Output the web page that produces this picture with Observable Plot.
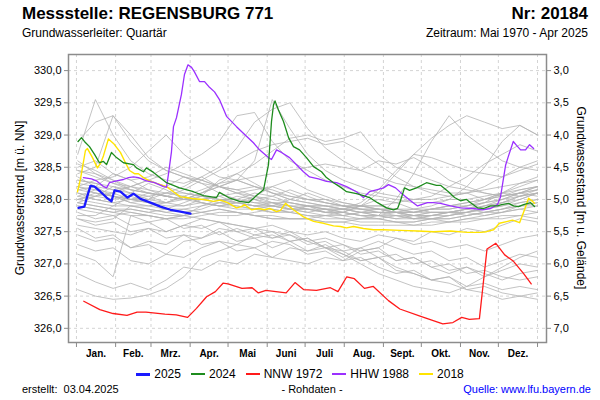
<!DOCTYPE html>
<html>
<head>
<meta charset="utf-8">
<script src="https://cdn.jsdelivr.net/npm/d3@7"></script>
<script src="https://cdn.jsdelivr.net/npm/@observablehq/plot@0.6"></script>
<style>
  html, body { margin: 0; padding: 0; background: #fff; }
  #wrap { position: relative; width: 600px; height: 400px; overflow: hidden; font-family: "Liberation Sans", Arial, sans-serif; color: #000; }
  .abs { position: absolute; white-space: nowrap; }
  #title { left: 22px; top: 4px; font-size: 17px; font-weight: bold; }
  #nr { right: 12px; top: 4px; font-size: 17px; font-weight: bold; }
  #sub { left: 22px; top: 26px; font-size: 12px; }
  #zeit { right: 12px; top: 26px; font-size: 12px; }
  .ylab { font-size: 12px; }
  #legend { left: 0; width: 600px; top: 367px; display: flex; justify-content: center; align-items: center; font-size: 12px; }
  #legend .item { display: flex; align-items: center; margin: 0 5px; }
  #legend .sw { display: inline-block; width: 14px; margin-right: 4px; }
  #footer1 { left: 22px; top: 383px; font-size: 11px; }
  #footer2 { left: 312px; top: 383px; font-size: 11px; transform: translateX(-50%); }
  #footer3 { right: 9px; top: 383px; font-size: 11px; color: #0000ff; }
</style>
</head>
<body>
<div id="wrap">
  <div id="chart" class="abs" style="left:0;top:0;"></div>
  <div id="title" class="abs">Messstelle: REGENSBURG 771</div>
  <div id="nr" class="abs">Nr: 20184</div>
  <div id="sub" class="abs">Grundwasserleiter: Quartär</div>
  <div id="zeit" class="abs">Zeitraum: Mai 1970 - Apr 2025</div>
  <div class="abs ylab" style="left:20px;top:198px;transform:translate(-50%,-50%) rotate(-90deg);">Grundwasserstand [m ü. NN]</div>
  <div class="abs ylab" style="left:581px;top:198px;transform:translate(-50%,-50%) rotate(90deg);">Grundwasserstand [m u. Gelände]</div>
  <div id="legend" class="abs"></div>
  <div id="footer1" class="abs">erstellt:&nbsp; 03.04.2025</div>
  <div id="footer2" class="abs">- Rohdaten -</div>
  <div id="footer3" class="abs">Quelle: www.lfu.bayern.de</div>
</div>
<script>
// ---------- axis / category data ----------
const monthStarts = [0, 31, 59, 90, 120, 151, 181, 212, 243, 273, 304, 334, 365];
const monthNames = ["Jan.", "Feb.", "Mrz.", "Apr.", "Mai", "Juni", "Juli", "Aug.", "Sept.", "Okt.", "Nov.", "Dez."];
const levelTicks = [326, 326.5, 327, 327.5, 328, 328.5, 329, 329.5, 330];
const groundLevel = 333.0;

// ---------- highlighted series (day of year, level m ü. NN) ----------
const days2025 = [1.6, 6.3, 8.7, 11.1, 14.3, 19, 23.8, 27.7, 30.1, 34.8, 40.4, 45.1, 50.7, 58.6, 66.5, 74.4, 82.3, 90.3];
const level2025 = [327.87, 327.89, 328.06, 328.21, 328.20, 328.12, 328.03, 327.97, 328.14, 328.12, 328.03, 328.09, 328.01, 327.95, 327.89, 327.84, 327.81, 327.78];

const days2024 = [1.3, 4.0, 6.3, 10.3, 14.3, 18.2, 21.4, 23.8, 27.7, 31.7, 37.2, 45.1, 47.5, 53.1, 55.4, 61.0, 71.3, 81.6, 92.6, 100.6, 110.9, 113.2, 120.4, 129.1, 136.2, 142.5, 148.1, 152.0, 154.4, 156.0, 157.2, 159.9, 163.9, 167.9, 171.8, 176.6, 182.1, 187.7, 194.0, 197.9, 203.5, 209.8, 213.8, 221.7, 227.2, 232.0, 238.3, 245.5, 251.0, 254.2, 256.5, 259.7, 263.7, 269.2, 277.1, 285.0, 288.2, 294.5, 299.3, 304.0, 308.8, 312.0, 317.5, 322.3, 327.8, 333.3, 336.5, 342.1, 346.0, 350.0, 353.9, 359.5, 362.6];
const level2024 = [328.90, 328.96, 328.90, 328.82, 328.70, 328.57, 328.59, 328.54, 328.73, 328.65, 328.57, 328.54, 328.49, 328.43, 328.49, 328.42, 328.26, 328.18, 328.12, 328.06, 328.03, 328.11, 328.03, 327.97, 327.95, 328.06, 328.15, 328.54, 329.21, 329.47, 329.53, 329.39, 329.21, 328.96, 328.82, 328.77, 328.65, 328.51, 328.43, 328.34, 328.26, 328.18, 328.12, 328.09, 328.06, 328.03, 327.95, 327.87, 327.84, 327.86, 327.98, 328.18, 328.14, 328.18, 328.26, 328.22, 328.22, 328.12, 328.03, 327.98, 328.00, 327.95, 327.87, 327.86, 327.90, 327.90, 327.92, 327.94, 327.90, 327.89, 327.92, 327.95, 327.89];

const daysNNW1972 = [5.8, 18.5, 29, 40, 48, 55, 70, 79, 88, 95, 103, 110, 116, 120, 131, 139, 144, 150, 166, 173, 180, 190, 201, 207, 214, 220, 228, 235, 247, 256, 272, 290, 298, 305, 311, 319, 325, 332, 339, 346, 354, 360];
const levelNNW1972 = [326.42, 326.29, 326.23, 326.20, 326.25, 326.25, 326.22, 326.21, 326.17, 326.31, 326.49, 326.57, 326.70, 326.69, 326.62, 326.63, 326.55, 326.59, 326.55, 326.71, 326.60, 326.59, 326.63, 326.57, 326.80, 326.77, 326.62, 326.65, 326.43, 326.30, 326.19, 326.07, 326.09, 326.17, 326.14, 326.15, 327.23, 327.32, 327.14, 327.04, 326.85, 326.69];

const daysHHW1988 = [5.5, 11.9, 15.8, 21.4, 23.8, 26.1, 31.7, 37.2, 41.2, 45.1, 49.1, 55.4, 61.8, 68.9, 71.3, 72.8, 75.2, 76.8, 79.2, 83.1, 85.5, 88.3, 91.1, 93.4, 97.4, 101.4, 105.3, 109.3, 113.2, 118.8, 126.7, 134.6, 140.1, 144.9, 152.0, 154.4, 158.4, 162.3, 168.7, 174.2, 179.7, 184.5, 191.6, 197.9, 205.9, 213.8, 221.7, 227.2, 232.0, 237.5, 243.1, 247.0, 252.6, 256.5, 264.5, 270.0, 277.9, 282.7, 288.2, 296.1, 304.0, 314.3, 321.5, 327.8, 333.3, 335.7, 339.7, 342.1, 345.8, 348.4, 351.6, 355.5, 358.7, 361.9];
const levelHHW1988 = [328.34, 328.32, 328.29, 328.20, 328.18, 328.26, 328.29, 328.31, 328.34, 328.35, 328.34, 328.29, 328.26, 328.20, 328.19, 328.39, 328.74, 329.13, 329.27, 329.63, 329.94, 330.09, 330.05, 329.98, 329.83, 329.83, 329.74, 329.67, 329.55, 329.29, 329.13, 328.98, 328.88, 328.77, 328.65, 328.62, 328.77, 328.73, 328.65, 328.54, 328.43, 328.35, 328.32, 328.28, 328.26, 328.20, 328.12, 328.03, 328.12, 328.15, 328.18, 328.23, 328.18, 328.11, 327.98, 327.90, 327.95, 327.95, 327.94, 327.90, 327.87, 327.86, 327.84, 327.86, 327.92, 328.04, 328.53, 328.68, 328.90, 328.84, 328.77, 328.77, 328.85, 328.79];

const days2018 = [0.8, 3.2, 7.1, 8.7, 12.7, 16.6, 19.0, 21.4, 25.3, 29.3, 34.8, 38.8, 42.0, 45.9, 49.1, 53.0, 57.8, 63.3, 71.3, 76.8, 82.3, 87.1, 92.6, 100.6, 108.5, 114.0, 119.6, 126.7, 130.6, 133.0, 138.6, 144.1, 148.9, 152.8, 158.4, 161.5, 165.5, 171.8, 179.7, 187.7, 195.6, 203.5, 209.0, 213.8, 219.3, 227.2, 235.2, 243.1, 256.5, 270.0, 282.7, 296.1, 309.6, 319.9, 324.6, 330.2, 334.9, 341.3, 345.2, 350.8, 354.7, 357.9, 361.1, 362.6];
const level2018 = [328.12, 328.32, 328.76, 328.79, 328.65, 328.49, 328.56, 328.68, 328.94, 328.87, 328.73, 328.57, 328.45, 328.40, 328.40, 328.34, 328.29, 328.25, 328.20, 328.12, 328.04, 328.03, 328.01, 328.00, 327.97, 327.99, 327.95, 327.87, 327.89, 327.92, 327.84, 327.86, 327.84, 327.86, 327.81, 327.83, 327.94, 327.84, 327.73, 327.66, 327.63, 327.59, 327.58, 327.56, 327.58, 327.55, 327.53, 327.53, 327.52, 327.51, 327.50, 327.51, 327.49, 327.49, 327.50, 327.53, 327.63, 327.66, 327.68, 327.64, 327.84, 328.02, 327.97, 327.94];

// ---------- other years of record (grey), read every 14 days ----------
const grayDays = [1, 15, 29, 43, 57, 71, 85, 99, 113, 127, 141, 155, 169, 183, 197, 211, 225, 239, 253, 267, 281, 295, 309, 323, 337, 351, 365];
const grayLevels = [
  [328.30,328.25,328.15,328.20,328.10,328.05,328.00,328.10,328.20,328.15,328.05,327.95,327.95,327.90,327.85,327.85,327.80,327.75,327.75,327.70,327.70,327.70,327.75,327.80,327.85,327.90,327.95],
  [328.05,328.00,327.95,327.90,327.90,327.95,328.05,327.95,327.90,327.85,327.85,327.80,327.85,327.80,327.75,327.75,327.70,327.70,327.65,327.65,327.70,327.65,327.70,327.75,327.80,327.85,327.80],
  [327.85,327.80,327.75,327.80,327.75,327.70,327.70,327.75,327.80,327.80,327.75,327.75,327.70,327.70,327.75,327.70,327.65,327.65,327.65,327.60,327.60,327.65,327.70,327.70,327.75,327.75,327.80],
  [328.45,328.40,328.30,328.20,328.30,328.20,328.10,328.05,328.00,328.00,328.10,328.05,327.95,327.90,327.90,327.85,327.80,327.80,327.75,327.75,327.75,327.80,327.85,327.80,327.85,327.95,328.00],
  [328.15,328.20,328.40,328.30,328.15,328.05,328.15,328.30,328.20,328.10,328.00,328.05,328.15,328.05,327.95,327.90,327.85,327.80,327.80,327.75,327.80,327.80,327.75,327.80,327.85,327.90,327.90],
  [327.70,327.65,327.70,327.90,327.85,327.80,327.75,327.90,328.00,327.95,327.90,327.85,327.80,327.90,327.85,327.80,327.75,327.70,327.75,327.70,327.70,327.75,327.80,327.75,327.80,327.85,327.90],
  [328.00,328.10,328.05,327.95,328.00,328.20,328.35,328.25,328.10,328.00,327.95,327.90,327.90,327.85,327.80,327.80,327.75,327.75,327.70,327.70,327.75,327.80,327.80,327.90,328.00,328.10,328.05],
  [327.95,327.90,327.85,327.85,327.80,327.85,327.95,328.05,328.30,328.40,328.25,328.10,328.00,327.95,327.90,327.85,327.80,327.80,327.80,327.75,327.75,327.75,327.80,327.85,327.90,328.00,328.10],
  [328.20,328.15,328.05,328.00,327.95,327.90,327.90,327.95,327.90,327.95,328.05,328.20,328.30,328.15,328.05,327.95,327.90,327.85,327.85,327.80,327.80,327.80,327.85,327.90,327.95,328.05,328.15],
  [327.90,327.85,327.80,327.75,327.75,327.70,327.75,327.80,327.85,327.80,327.75,327.70,327.70,327.70,327.65,327.65,327.60,327.60,327.60,327.60,327.65,327.65,327.65,327.70,327.70,327.75,327.70],
  [328.10,328.05,328.00,328.10,328.25,328.15,328.00,327.95,327.90,327.90,327.85,327.90,328.00,328.10,328.00,327.90,327.90,327.85,327.80,327.80,327.85,327.85,327.90,327.95,328.00,328.10,328.20],
  [328.35,328.20,328.05,327.95,327.90,327.85,327.80,327.85,327.95,328.05,328.00,327.95,327.90,327.85,327.85,327.80,327.90,328.00,327.95,327.85,327.80,327.80,327.80,327.85,327.90,327.95,328.00],
  [327.75,327.75,327.90,328.05,327.95,327.85,327.85,327.80,327.75,327.75,327.80,327.85,327.80,327.75,327.70,327.70,327.70,327.70,327.65,327.65,327.70,327.70,327.75,327.80,327.80,327.90,327.95],
  [328.55,328.45,328.30,328.15,328.10,328.05,328.00,328.00,328.05,328.10,328.15,328.20,328.10,328.00,327.95,327.90,327.85,327.85,327.85,327.80,327.85,327.90,327.95,328.00,328.05,328.15,328.20],
  [328.05,328.15,328.10,328.00,328.05,327.95,327.90,328.00,328.05,327.95,327.90,327.95,327.85,327.80,327.85,327.75,327.80,327.75,327.70,327.75,327.70,327.75,327.80,327.85,327.95,328.05,328.10],
  [327.95,328.05,328.20,328.10,328.00,328.10,328.05,327.95,327.90,327.95,328.00,327.90,327.85,327.90,327.80,327.75,327.80,327.85,327.80,327.70,327.75,327.80,327.85,327.95,328.10,328.25,328.35],
  [328.70,329.55,329.00,328.60,328.40,328.30,328.25,328.35,328.20,328.10,328.05,328.00,327.95,327.90,327.90,327.85,327.85,327.80,327.80,327.75,327.80,327.80,327.85,327.90,327.95,328.00,328.10],
  [328.90,329.20,329.30,328.90,328.60,328.45,328.35,328.30,328.20,328.15,328.20,328.10,328.00,327.95,327.90,327.90,327.85,327.85,327.80,327.80,327.85,327.85,327.90,328.00,328.10,328.20,328.30],
  [328.40,328.50,329.30,329.00,328.65,328.45,328.35,328.25,328.20,328.30,328.20,328.10,328.05,328.00,327.95,327.90,327.90,327.85,327.80,327.80,327.85,327.90,327.95,328.00,328.10,328.05,328.10],
  [328.20,328.30,328.35,328.50,328.75,329.00,328.70,328.50,328.35,328.30,328.20,328.15,328.05,328.00,328.00,327.95,327.90,327.90,327.85,327.85,327.85,327.90,327.90,327.95,328.00,328.05,328.10],
  [328.00,328.05,328.10,328.20,328.30,328.40,328.55,328.70,328.90,329.30,329.35,328.90,328.60,328.45,328.30,328.20,328.10,328.05,328.00,327.95,327.95,328.00,328.00,328.05,328.10,328.15,328.20],
  [328.10,328.00,327.95,328.00,328.10,328.05,328.00,328.10,328.20,328.30,328.60,329.55,329.10,328.70,328.45,328.30,328.20,328.10,328.05,328.00,328.00,328.05,328.10,328.00,328.05,328.10,328.15],
  [328.25,328.20,328.15,328.10,328.05,328.10,328.20,328.35,328.50,328.80,329.20,329.40,329.50,329.10,328.80,328.60,328.45,328.35,328.25,328.20,328.15,328.10,328.10,328.15,328.20,328.25,328.30],
  [328.30,328.25,328.20,328.15,328.10,328.05,328.00,328.10,328.25,328.40,328.55,328.75,328.95,329.00,328.90,328.95,329.05,328.70,328.50,328.40,328.30,328.20,328.15,328.10,328.05,328.10,328.20],
  [327.90,327.85,327.80,327.85,327.80,327.75,327.75,327.80,327.85,327.80,327.75,327.70,327.70,327.70,327.65,327.65,327.70,327.75,328.00,328.40,328.90,329.30,329.00,328.80,328.60,328.50,328.45],
  [328.00,327.95,327.90,327.90,327.85,327.80,327.85,327.90,327.95,327.90,327.85,327.80,327.80,327.75,327.75,327.80,327.90,328.10,328.40,328.70,328.95,329.15,329.30,329.20,329.10,329.15,329.00],
  [328.20,328.10,328.05,328.00,328.00,327.95,328.05,328.15,328.25,328.30,328.35,328.40,328.45,328.50,328.55,328.50,328.45,328.60,328.55,328.65,328.50,328.30,328.20,328.10,328.05,328.10,328.15],
  [328.50,328.60,328.40,328.30,328.35,328.50,328.40,328.30,328.45,328.60,328.75,328.85,328.90,328.95,328.85,328.90,328.75,328.55,328.35,328.20,328.10,328.05,328.10,328.20,328.35,328.50,328.60],
  [328.60,328.40,328.25,328.15,328.10,328.05,328.00,328.00,327.95,327.95,327.90,327.90,327.85,327.85,327.80,327.80,327.75,327.75,327.80,327.85,327.90,328.00,328.20,328.50,328.90,329.15,329.00],
  [328.45,328.35,328.25,328.20,328.15,328.10,328.10,328.05,328.00,328.00,327.95,327.95,327.90,327.90,327.85,327.85,327.90,327.90,327.95,328.00,328.05,328.20,328.35,328.55,328.70,328.85,328.75],
  [328.15,328.10,328.05,328.00,327.95,327.95,328.00,328.05,328.00,327.95,327.90,327.90,327.85,327.85,327.80,327.85,327.95,328.15,328.45,328.70,328.65,328.55,328.45,328.40,328.35,328.45,328.55],
  [327.30,327.20,327.25,327.05,327.00,327.15,327.10,327.25,327.35,327.30,327.45,327.40,327.50,327.35,327.40,327.30,327.20,327.25,327.05,327.10,326.95,326.85,326.95,326.80,326.90,327.00,326.95],
  [326.60,326.50,326.45,326.47,326.52,326.62,326.80,327.10,327.20,327.30,327.25,327.35,327.30,327.15,327.20,327.05,327.10,326.95,326.85,326.90,326.75,326.70,326.60,326.65,326.55,326.50,326.55],
  [326.85,326.72,326.62,326.70,326.60,326.75,326.95,326.90,327.05,327.00,327.15,327.10,327.25,327.20,327.30,327.15,327.05,327.10,326.95,326.85,326.75,326.80,326.65,326.70,326.60,326.65,326.60],
  [327.55,327.40,327.45,327.25,327.30,327.15,327.35,327.40,327.50,327.35,327.40,327.25,327.35,327.20,327.25,327.10,327.25,327.35,327.25,327.15,327.20,327.05,327.10,326.95,327.05,327.15,327.10],
  [327.15,327.05,326.80,327.75,327.65,327.70,327.55,327.60,327.45,327.55,327.45,327.50,327.35,327.40,327.25,327.30,327.15,327.20,327.05,327.10,326.95,327.00,326.85,326.90,326.80,326.75,326.80],
  [327.45,327.35,327.40,327.25,327.35,327.30,327.45,327.40,327.55,327.50,327.40,327.45,327.35,327.40,327.25,327.20,327.05,327.10,326.90,326.85,326.75,326.80,326.60,326.55,326.45,326.50,326.45],
  [327.80,327.70,327.75,327.60,327.65,327.50,327.60,327.55,327.65,327.50,327.55,327.40,327.45,327.30,327.35,327.20,327.25,327.10,327.15,327.00,327.05,326.90,326.95,326.85,326.75,326.85,326.90],
  [327.70,327.60,327.65,327.50,327.55,327.40,327.45,327.30,327.35,327.20,327.25,327.10,327.05,327.00,327.10,327.05,327.20,327.25,327.40,327.35,327.50,327.45,327.55,327.50,327.60,327.70,327.65],
  [327.95,327.90,327.85,327.80,327.75,327.70,327.75,327.70,327.65,327.60,327.55,327.50,327.45,327.35,327.25,327.15,327.00,326.85,326.75,326.65,326.60,326.55,326.65,326.80,326.95,327.10,327.20],
  [327.60,327.55,327.50,327.45,327.55,327.50,327.60,327.70,327.65,327.60,327.55,327.60,327.50,327.45,327.50,327.40,327.35,327.45,327.40,327.30,327.35,327.25,327.30,327.20,327.30,327.40,327.45]
];

// ---------- build tables ----------
const zip = (ds, ls) => ds.map((d, i) => ({day: d, level: ls[i]})).filter(r => r.level != null);
const grayRows = grayLevels.flatMap((ls, k) => grayDays.map((d, i) => ({series: k, day: d, level: ls[i]})).filter(r => r.level != null));
const series = [
  {name: "2018", rows: zip(days2018, level2018), color: "#ffe400", width: 1.4},
  {name: "HHW 1988", rows: zip(daysHHW1988, levelHHW1988), color: "#9b30ff", width: 1.3},
  {name: "NNW 1972", rows: zip(daysNNW1972, levelNNW1972), color: "#ff1a1a", width: 1.3},
  {name: "2024", rows: zip(days2024, level2024), color: "#1e8c1e", width: 1.3},
  {name: "2025", rows: zip(days2025, level2025), color: "#1a1aff", width: 2.3}
];
const legendOrder = ["2025", "2024", "NNW 1972", "HHW 1988", "2018"];
const monthMids = monthStarts.slice(0, 12).map((s, i) => (s + monthStarts[i + 1]) / 2);
const fmt = v => v.toFixed(1).replace(".", ",");

const chart = Plot.plot({
  width: 600,
  height: 400,
  marginTop: 54,
  marginBottom: 58,
  marginLeft: 68,
  marginRight: 54,
  style: {fontFamily: "'Liberation Sans', Arial, sans-serif", fontSize: "11px", background: "transparent", color: "#000"},
  x: {domain: [-6.3, 372.1]},
  y: {domain: [325.78, 330.25]},
  marks: [
    Plot.gridY(levelTicks, {stroke: "#d4d4d4", strokeOpacity: 1, strokeDasharray: "3,3"}),
    Plot.gridX(monthStarts, {stroke: "#d4d4d4", strokeOpacity: 1, strokeDasharray: "3,3"}),
    Plot.line(grayRows, {x: "day", y: "level", z: "series", stroke: "#b4b4b4", strokeWidth: 0.8}),
    ...series.map(s => Plot.line(s.rows, {x: "day", y: "level", stroke: s.color, strokeWidth: s.width})),
    Plot.frame({stroke: "#8c8c8c", strokeWidth: 1.5}),
    Plot.axisY(levelTicks, {anchor: "left", tickSize: 4, tickPadding: 3, tickFormat: fmt, label: null, stroke: "#8c8c8c", fontSize: 11}),
    Plot.axisY(levelTicks, {anchor: "right", tickSize: 4, tickPadding: 3, tickFormat: v => fmt(groundLevel - v), label: null, stroke: "#8c8c8c", fontSize: 11}),
    Plot.axisX(monthStarts, {anchor: "bottom", tickSize: 5, tickFormat: () => "", label: null, stroke: "#8c8c8c"}),
    Plot.axisX(monthMids, {anchor: "bottom", tickSize: 0, tickPadding: 7, tickFormat: d => monthNames[monthMids.indexOf(d)], label: null, fontSize: 10, fontWeight: "bold"})
  ]
});
document.getElementById("chart").appendChild(chart);

// legend
const legend = document.getElementById("legend");
for (const name of legendOrder) {
  const s = series.find(t => t.name === name);
  const item = document.createElement("span");
  item.className = "item";
  const sw = document.createElement("span");
  sw.className = "sw";
  sw.style.height = (name === "2025" ? 3 : 1.5) + "px";
  sw.style.background = s.color;
  item.appendChild(sw);
  item.appendChild(document.createTextNode(name));
  legend.appendChild(item);
}
</script>
</body>
</html>
